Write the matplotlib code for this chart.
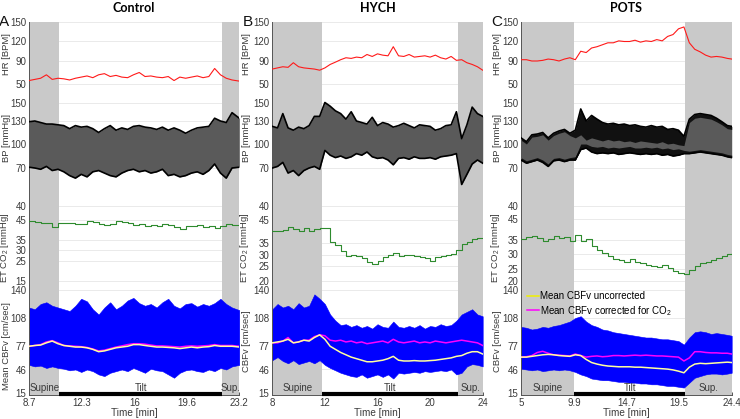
import numpy as np
import matplotlib
matplotlib.use("Agg")
import matplotlib.pyplot as plt
from matplotlib.transforms import ScaledTranslation

plt.rcParams['font.family'] = ['Liberation Sans', 'DejaVu Sans']
plt.rcParams['mathtext.fontset'] = 'custom'
plt.rcParams['mathtext.rm'] = 'Liberation Sans'
plt.rcParams['mathtext.it'] = 'Liberation Sans:italic'
plt.rcParams['mathtext.bf'] = 'Liberation Sans:bold'

# ---------------- Control ----------------
t_ctrl = [8.7, 9.1, 9.5, 9.9, 10.3, 10.7, 11.1, 11.5, 11.9, 12.3, 12.7, 13.1, 13.5,
          13.9, 14.3, 14.7, 15.1, 15.5, 15.9, 16.3, 16.7, 17.1, 17.5, 17.9, 18.3,
          18.7, 19.1, 19.5, 19.9, 20.3, 20.7, 21.1, 21.5, 21.9, 22.3, 22.7, 23.2]
hr_ctrl = [56, 58, 60, 66, 58, 60, 59, 57, 60, 62, 64, 61, 66, 68, 63, 65, 62, 61, 66,
           70, 63, 64, 62, 61, 63, 56, 62, 60, 62, 64, 61, 63, 77, 66, 60, 57, 55]
sbp_ctrl = [129, 130, 128, 126, 126, 125, 124, 120, 124, 122, 123, 120, 115, 120, 124,
            118, 121, 119, 123, 124, 122, 121, 119, 122, 118, 121, 118, 114, 118, 121,
            122, 123, 133, 130, 128, 139, 133]
dbp_ctrl = [71, 70, 69, 72, 68, 69, 67, 64, 62, 65, 63, 67, 68, 66, 64, 63, 66, 68, 69,
            67, 68, 66, 67, 69, 64, 65, 63, 64, 66, 67, 65, 68, 75, 66, 62, 70, 71]
co2_ctrl = [44.5, 44, 43.7, 43.5, 41.5, 43.5, 43.5, 43.5, 43.2, 43, 44.5, 44, 43, 42.5,
            43, 44.5, 44, 43.5, 42.5, 43, 42, 42.5, 42, 43, 42.5, 41.5, 40.5, 42, 42,
            42.5, 41.5, 42, 41.2, 42, 43, 42.5, 42.5]
cbf_hi_ctrl = [120, 118, 124, 126, 122, 120, 118, 116, 122, 130, 127, 118, 112, 120, 126,
               118, 122, 128, 131, 125, 122, 124, 120, 126, 130, 122, 119, 124, 125, 121,
               124, 122, 125, 130, 124, 120, 117]
cbf_lo_ctrl = [52, 50, 51, 48, 50, 48, 47, 45, 46, 43, 46, 44, 40, 38, 42, 44, 46, 44, 48,
               45, 42, 47, 45, 44, 40, 36, 42, 45, 46, 44, 43, 46, 44, 48, 46, 50, 52]
unc_ctrl = [76, 77, 77.5, 80, 82, 79, 77, 76, 75, 75, 74, 72, 69, 70, 72, 74, 75, 76, 78,
            78, 77, 76, 75, 75, 74.5, 74, 73, 74, 75, 74, 75, 75.5, 77, 76, 76, 76, 75]
cor_ctrl = [76, 77, 78, 81, 82.5, 80, 77, 76.5, 76, 75.5, 74.5, 72.5, 70, 71, 73, 75, 76.5,
            78, 79, 79, 78.5, 77.5, 76.5, 76.5, 76, 75.5, 75, 76, 76.5, 76, 76.5, 77, 78,
            77, 77, 77, 76]

# ---------------- HYCH ----------------
t_hych = [8.0, 8.4, 8.8, 9.2, 9.6, 10.0, 10.4, 10.8, 11.2, 11.6, 12.0, 12.4, 12.8, 13.2,
          13.6, 14.0, 14.4, 14.8, 15.2, 15.6, 16.0, 16.4, 16.8, 17.2, 17.6, 18.0, 18.4,
          18.8, 19.2, 19.6, 20.0, 20.4, 20.8, 21.2, 21.6, 22.0, 22.4, 22.8, 23.2, 23.6, 24.0]
hr_hych = [76, 78, 80, 79, 87, 80, 78, 77, 76, 74, 78, 84, 88, 92, 95, 94, 96, 95, 100, 97,
           101, 99, 98, 112, 98, 97, 100, 96, 97, 98, 96, 99, 95, 93, 97, 91, 92, 87, 84,
           80, 74]
sbp_hych = [123, 121, 138, 121, 118, 122, 120, 124, 135, 135, 150, 146, 141, 138, 132, 140,
            130, 128, 126, 134, 124, 128, 126, 122, 124, 127, 124, 121, 125, 124, 123, 118,
            120, 124, 125, 140, 107, 125, 145, 138, 135]
dbp_hych = [70, 72, 77, 66, 68, 64, 68, 70, 72, 69, 92, 86, 83, 85, 82, 84, 88, 86, 90, 84,
            82, 83, 80, 74, 82, 83, 81, 84, 82, 82, 83, 81, 84, 85, 86, 88, 57, 65, 75, 80, 76]
co2_hych = [40, 40, 40.5, 42, 41, 40, 41.5, 40, 41, 41.5, 41.5, 35.5, 34, 31.5, 29.5, 30,
            29.5, 28.5, 27, 26, 27.5, 29, 30, 31, 29.5, 30, 30, 29.5, 29, 28.5, 27.5, 29,
            29.5, 30, 30.5, 32, 34.5, 35.5, 36.5, 37, 37]
cbf_hi_hych = [118, 124, 120, 122, 118, 125, 120, 122, 135, 130, 124, 112, 105, 100, 101,
               98, 100, 97, 99, 96, 101, 98, 97, 104, 98, 97, 99, 97, 100, 96, 99, 98, 101,
               99, 100, 105, 112, 115, 118, 112, 110]
cbf_lo_hych = [58, 62, 57, 54, 58, 53, 55, 57, 54, 58, 52, 48, 45, 42, 40, 38, 37, 40, 36,
               38, 40, 37, 40, 35, 42, 41, 42, 43, 42, 44, 43, 44, 45, 44, 46, 40, 42, 50,
               53, 52, 50]
unc_hych = [80, 81, 82, 84, 80, 81, 83, 82, 86, 89, 84, 76, 72, 68, 65, 62, 60, 58, 56, 56,
            57, 58, 60, 63, 58, 57, 57, 57.5, 57, 57, 57.5, 58, 59, 60, 61, 63, 64, 67, 69,
            69, 66]
cor_hych = [80, 80, 82, 86, 80, 81, 83, 83, 87, 89, 88, 83, 82, 83, 81, 82, 80, 81, 79, 80,
            81, 82, 80, 84, 81, 80, 81, 82, 80, 81, 80, 82, 81, 80, 81, 82, 83, 82, 81, 80, 77]

# ---------------- POTS ----------------
t_pots = [5.0, 5.5, 6.0, 6.5, 7.0, 7.5, 8.0, 8.5, 9.0, 9.5, 10.0, 10.5, 11.0, 11.5, 12.0,
          12.5, 13.0, 13.5, 14.0, 14.5, 15.0, 15.5, 16.0, 16.5, 17.0, 17.5, 18.0, 18.5,
          19.0, 19.5, 20.0, 20.5, 21.0, 21.5, 22.0, 22.5, 23.0, 23.5, 24.0, 24.4]
hr_pots = [92, 92, 90, 90, 91, 93, 92, 90, 93, 95, 92, 105, 103, 110, 112, 115, 118, 118,
           121, 120, 120, 122, 119, 121, 120, 123, 121, 128, 131, 140, 143, 118, 108, 104,
           99, 96, 97, 96, 94, 93]
sbp_pots = [108, 103, 112, 113, 115, 108, 114, 117, 119, 114, 118, 143, 130, 136, 132, 128,
            126, 127, 125, 126, 124, 125, 123, 122, 124, 122, 123, 119, 120, 118, 110, 132,
            137, 138, 137, 136, 133, 129, 124, 123]
sbp_lo_pots = [105, 100, 109, 110, 112, 105, 111, 114, 116, 111, 108, 112, 105, 108, 106,
               104, 106, 104, 105, 103, 104, 102, 104, 103, 102, 101, 103, 100, 101, 99, 98,
               128, 133, 134, 133, 132, 129, 125, 120, 119]
dbp_pots = [80, 76, 78, 80, 77, 72, 79, 80, 78, 80, 80, 93, 95, 90, 88, 89, 88, 89, 87, 88,
            89, 88, 87, 88, 87, 88, 86, 87, 85, 86, 88, 88, 89, 90, 89, 88, 87, 86, 84, 83]
dbp_hi_pots = [83, 79, 81, 83, 80, 75, 82, 83, 81, 83, 84, 100, 100, 97, 96, 97, 95, 96, 95,
               96, 97, 95, 95, 96, 95, 96, 94, 95, 93, 94, 92, 91, 92, 93, 92, 91, 90, 89,
               87, 86]
co2_pots = [35.5, 36.5, 36.8, 36, 34.5, 35.5, 37, 36, 36.5, 34.5, 37.5, 34.5, 35.5, 33,
            31.5, 30.5, 29.5, 28.5, 28, 27.5, 28.5, 27.5, 27, 26.5, 26, 25.8, 26.2, 25.5,
            24.2, 23.5, 23, 24.5, 26, 27, 27.5, 28, 28.8, 29.5, 30, 30.5]
cbf_hi_pots = [98, 97, 95, 96, 98, 97, 99, 100, 102, 104, 108, 110, 104, 100, 98, 95, 94,
               92, 91, 90, 89, 88, 87, 86, 86, 85, 84, 84, 83, 82, 78, 86, 92, 93, 92, 90,
               91, 90, 89, 88]
cbf_lo_pots = [47, 46, 45, 46, 44, 45, 46, 45, 46, 45, 43, 40, 38, 35, 34, 33, 33, 32, 31,
               31, 30, 30, 29, 29, 28, 28, 27, 26, 26, 25, 24, 30, 36, 38, 40, 41, 41, 40,
               41, 42]
unc_pots = [62, 62, 63, 64, 65, 65.5, 65, 64, 63.5, 63, 65, 64, 59, 55, 53, 51.5, 50.5, 50,
            49.5, 49.5, 49.5, 49, 49, 48.5, 48, 47.5, 47, 46.5, 45.5, 44, 42, 49, 53, 54,
            53.5, 54, 54.5, 55, 55.5, 55]
cor_pots = [62, 62.5, 64, 68, 69.5, 67, 65, 64.5, 64, 63.5, 66, 64, 62, 63, 63.5, 62.5, 63,
            64, 64, 63.5, 64, 64.5, 64, 64.5, 64, 63.5, 63.5, 63, 62.5, 62, 57, 61, 69, 69,
            68, 67.5, 67.5, 67, 67, 66]

# phase boundaries [min]: supine end, supine-again start
phases = {'Control': (10.8, 22.0), 'HYCH': (11.8, 22.1), 'POTS': (9.9, 20.1)}
xticks = {'Control': [8.7, 12.3, 16, 19.6, 23.2],
          'HYCH': [8, 12, 16, 20, 24],
          'POTS': [5, 9.9, 14.7, 19.5, 24.4]}
xticklabels = {'Control': ['8.7', '12.3', '16', '19.6', '23.2'],
               'HYCH': ['8', '12', '16', '20', '24'],
               'POTS': ['5', '9.9', '14.7', '19.5', '24.4']}

W, H = 740, 419
fig = plt.figure(figsize=(W / 100, H / 100), dpi=100)

GRAY = '#c9c9c9'
TXT = '#3a3a3a'


def block_scale(vals, pos):
    # piecewise linear value -> (negative) pixel row, extended linearly at both ends
    v = np.array(vals, float)
    p = -np.array(pos, float)
    lo = (p[1] - p[0]) / (v[1] - v[0])
    hi = (p[-1] - p[-2]) / (v[-1] - v[-2])
    v = np.concatenate([[v[0] - 1e4], v, [v[-1] + 1e4]])
    p = np.concatenate([[p[0] - 1e4 * lo], p, [p[-1] + 1e4 * hi]])
    return (lambda x: np.interp(x, v, p)), (lambda y: np.interp(y, p, v))


columns = [
    dict(name='Control', letter='A', left=29, right=239.3, t=t_ctrl, hr=hr_ctrl,
         sbp=sbp_ctrl, dbp=dbp_ctrl, co2=co2_ctrl, hi=cbf_hi_ctrl, lo=cbf_lo_ctrl,
         unc=unc_ctrl, cor=cor_ctrl,
         co2_ticks=([15, 25, 30, 35, 45], [281, 261, 250, 240, 220]),
         cbf_label='Mean CBFv [cm/sec]', cbf_lab_y=346, lab_x=11.5),
    dict(name='HYCH', letter='B', left=272.3, right=482.7, t=t_hych, hr=hr_hych,
         sbp=sbp_hych, dbp=dbp_hych, co2=co2_hych, hi=cbf_hi_hych, lo=cbf_lo_hych,
         unc=unc_hych, cor=cor_hych,
         co2_ticks=([20, 25, 30, 35, 45], [281, 266, 255, 243, 219.5]),
         cbf_label='CBFv [cm/sec]', cbf_lab_y=341, lab_x=251),
    dict(name='POTS', letter='C', left=521, right=731.7, t=t_pots, hr=hr_pots,
         sbp=sbp_pots, dbp=dbp_pots, co2=co2_pots, hi=cbf_hi_pots, lo=cbf_lo_pots,
         unc=unc_pots, cor=cor_pots,
         co2_ticks=([20, 25, 30, 35, 45], [281, 269, 254, 240, 219]),
         cbf_label='CBFv [cm/sec]', cbf_lab_y=341, lab_x=502),
]

for col in columns:
    t = col['t']
    t0, t1 = t[0], t[-1]
    sup_end, sup2 = phases[col['name']]
    blocks = [
        ('hr', 22.5, 93, [50, 90, 120, 150], [84, 61, 41.5, 22.5], 'HR [BPM]', 54),
        ('bp', 93, 213, [40, 70, 100, 130, 150], [206, 168, 144, 121, 102.5], 'BP [mmHg]', 138),
        ('co2', 213, 285.5, col['co2_ticks'][0], col['co2_ticks'][1], 'ET CO$_2$ [mmHg]', 248),
        ('cbf', 285.5, 395, [15, 46, 77, 108, 140], [395, 369.5, 345.5, 318, 290],
         col['cbf_label'], col['cbf_lab_y']),
    ]
    for key, top, bot, ticks, tpos, label, lab_y in blocks:
        ax = fig.add_axes([col['left'] / W, 1 - bot / H,
                           (col['right'] - col['left']) / W, (bot - top) / H])
        fwd, inv = block_scale(ticks, tpos)
        ax.set_yscale('function', functions=(fwd, inv))
        ax.set_ylim(inv(-bot), inv(-top))
        ax.set_xlim(t0, t1)
        ax.set_yticks(ticks)
        ax.set_yticklabels([str(v) for v in ticks])
        ax.set_axisbelow(True)
        ax.yaxis.grid(True, color='#e6e6e6', lw=0.6)
        ax.axvspan(t0, sup_end, color=GRAY, lw=0, zorder=1)
        ax.axvspan(sup2, t1, color=GRAY, lw=0, zorder=1)
        for s in ['top', 'right']:
            ax.spines[s].set_visible(False)
        ax.spines['left'].set_color('#555555')
        ax.spines['left'].set_linewidth(0.7)
        ax.tick_params(axis='both', direction='in', length=2, width=0.6,
                       labelsize=7, colors=TXT, pad=2)
        ax.set_ylabel(label, fontsize=6.8, color=TXT)
        ax.yaxis.set_label_coords((col['lab_x'] - col['left']) / (col['right'] - col['left']),
                                  (bot - lab_y) / (bot - top))
        if key != 'cbf':
            ax.spines['bottom'].set_visible(False)
            ax.set_xticks([])
        ax.set_facecolor('none')

        if key == 'hr':
            ax.plot(t, col['hr'], color='#ff1a1a', lw=0.8, zorder=3)
        elif key == 'bp':
            ax.fill_between(t, col['dbp'], col['sbp'], color='#5a5a5a', lw=0, zorder=2)
            if col['name'] == 'POTS':
                ax.fill_between(t, sbp_lo_pots, col['sbp'], color='#111111', lw=0, zorder=2)
                ax.fill_between(t, col['dbp'], dbp_hi_pots, color='#111111', lw=0, zorder=2)
            ax.plot(t, col['sbp'], color='black', lw=1.2, zorder=3)
            ax.plot(t, col['dbp'], color='black', lw=1.2, zorder=3)
        elif key == 'co2':
            ax.plot(t, col['co2'], color='#2e8b2e', lw=0.8, drawstyle='steps-post', zorder=3)
        else:
            ax.fill_between(t, col['lo'], col['hi'], color='#0000ff', lw=0.4,
                            edgecolor='#0000ff', zorder=2)
            l1, = ax.plot(t, col['unc'], color='#ffffa0', lw=1.1, zorder=4,
                          label='Mean CBFv uncorrected')
            l2, = ax.plot(t, col['cor'], color='#ff00ff', lw=1.1, zorder=3,
                          label='Mean CBFv corrected for CO$_2$')
            ax.spines['bottom'].set_color('#555555')
            ax.spines['bottom'].set_linewidth(0.7)
            ax.set_xticks(xticks[col['name']])
            ax.set_xticklabels(xticklabels[col['name']])
            ax.tick_params(axis='x', pad=2)
            ax.set_xlabel('Time [min]', fontsize=7.2, color=TXT, labelpad=0.5)
            # nudge the lowest y label up a little so it clears the first x label
            low = ax.get_yticklabels()[0]
            low.set_transform(low.get_transform() + ScaledTranslation(0, 2 / 100, fig.dpi_scale_trans))
            ax.plot([sup_end, sup2], [15.8, 15.8], color='black', lw=3,
                    solid_capstyle='butt', clip_on=False, zorder=6)
            ax.text((t0 + sup_end) / 2, 23, 'Supine', ha='center', va='center',
                    fontsize=7, color=TXT, zorder=6)
            ax.text((sup_end + sup2) / 2, 23, 'Tilt', ha='center', va='center',
                    fontsize=7, color=TXT, zorder=6)
            ax.text((sup2 + t1) / 2, 23, 'Sup.', ha='center', va='center',
                    fontsize=7, color=TXT, zorder=6)
            if col['name'] == 'POTS':
                leg = ax.legend(handles=[l1, l2], loc='upper left', bbox_to_anchor=(0.0, 1.0),
                                frameon=False, fontsize=7, handlelength=1.2,
                                handletextpad=0.2, labelspacing=0.25, borderaxespad=0.2)
                leg.legend_handles[0].set_color('#f0f000')

    fig.text((col['left'] + col['right']) / 2 / W, 1 - 8 / H, col['name'],
             ha='center', va='center', fontsize=9, fontweight='bold', family='Lato')
    fig.text((col['left'] - 30) / W, 1 - 22 / H, col['letter'], ha='left', va='center',
             fontsize=11, color='#111111')

fig.savefig('out.png', dpi=100)
